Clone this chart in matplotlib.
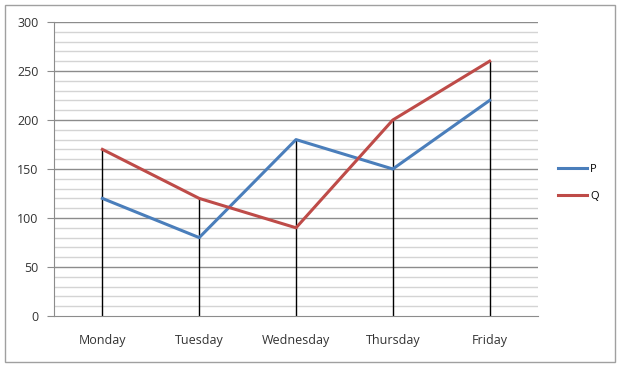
import matplotlib.pyplot as plt
from matplotlib.patches import Rectangle

days = ['Monday', 'Tuesday', 'Wednesday', 'Thursday', 'Friday']
p_values = [120, 80, 180, 150, 220]
q_values = [170, 120, 90, 200, 260]

plt.rcParams['font.family'] = ['Open Sans', 'DejaVu Sans']

fig = plt.figure(figsize=(6.24, 3.76), dpi=100)
ax = fig.add_axes([54 / 624, 60 / 376, 484 / 624, 294 / 376])

# outer chart border
fig.patches.append(Rectangle((5 / 624, 14 / 376), 610 / 624, 357 / 376,
                             transform=fig.transFigure, fill=False,
                             edgecolor='#a0a0a0', linewidth=1.0))

x = list(range(len(days)))

# gridlines: minor every 10, major every 50
for v in range(10, 301, 10):
    if v % 50 == 0:
        ax.axhline(v, color='#8c8c8c', linewidth=1.0, zorder=1)
    else:
        ax.axhline(v, color='#d4d4d4', linewidth=1.0, zorder=1)

# drop lines
tops = [max(a, b) for a, b in zip(p_values, q_values)]
ax.vlines(x, 0, tops, colors='black', linewidth=1.0, zorder=2)

ax.plot(x, p_values, color='#4a7ebb', linewidth=2.2, label='P', zorder=3)
ax.plot(x, q_values, color='#be4b48', linewidth=2.2, label='Q', zorder=3)

ax.set_xlim(-0.5, len(days) - 0.5)
ax.set_ylim(0, 300)
ax.set_yticks(range(0, 301, 50))
ax.set_xticks(x)
ax.set_xticklabels(days)

for side in ['top', 'right']:
    ax.spines[side].set_visible(False)
ax.spines['left'].set_color('#8c8c8c')
ax.spines['bottom'].set_color('#8c8c8c')
ax.tick_params(axis='y', length=5, color='#8c8c8c', labelsize=9, pad=6,
               labelcolor='#333333')
ax.tick_params(axis='x', length=0, labelsize=9, pad=13, labelcolor='#333333')

ax.legend(loc='center left', bbox_to_anchor=(1.02, 0.452), frameon=False,
          fontsize=8, handlelength=2.6, handletextpad=0.3, labelspacing=1.45)

fig.savefig('out.png', dpi=100)
